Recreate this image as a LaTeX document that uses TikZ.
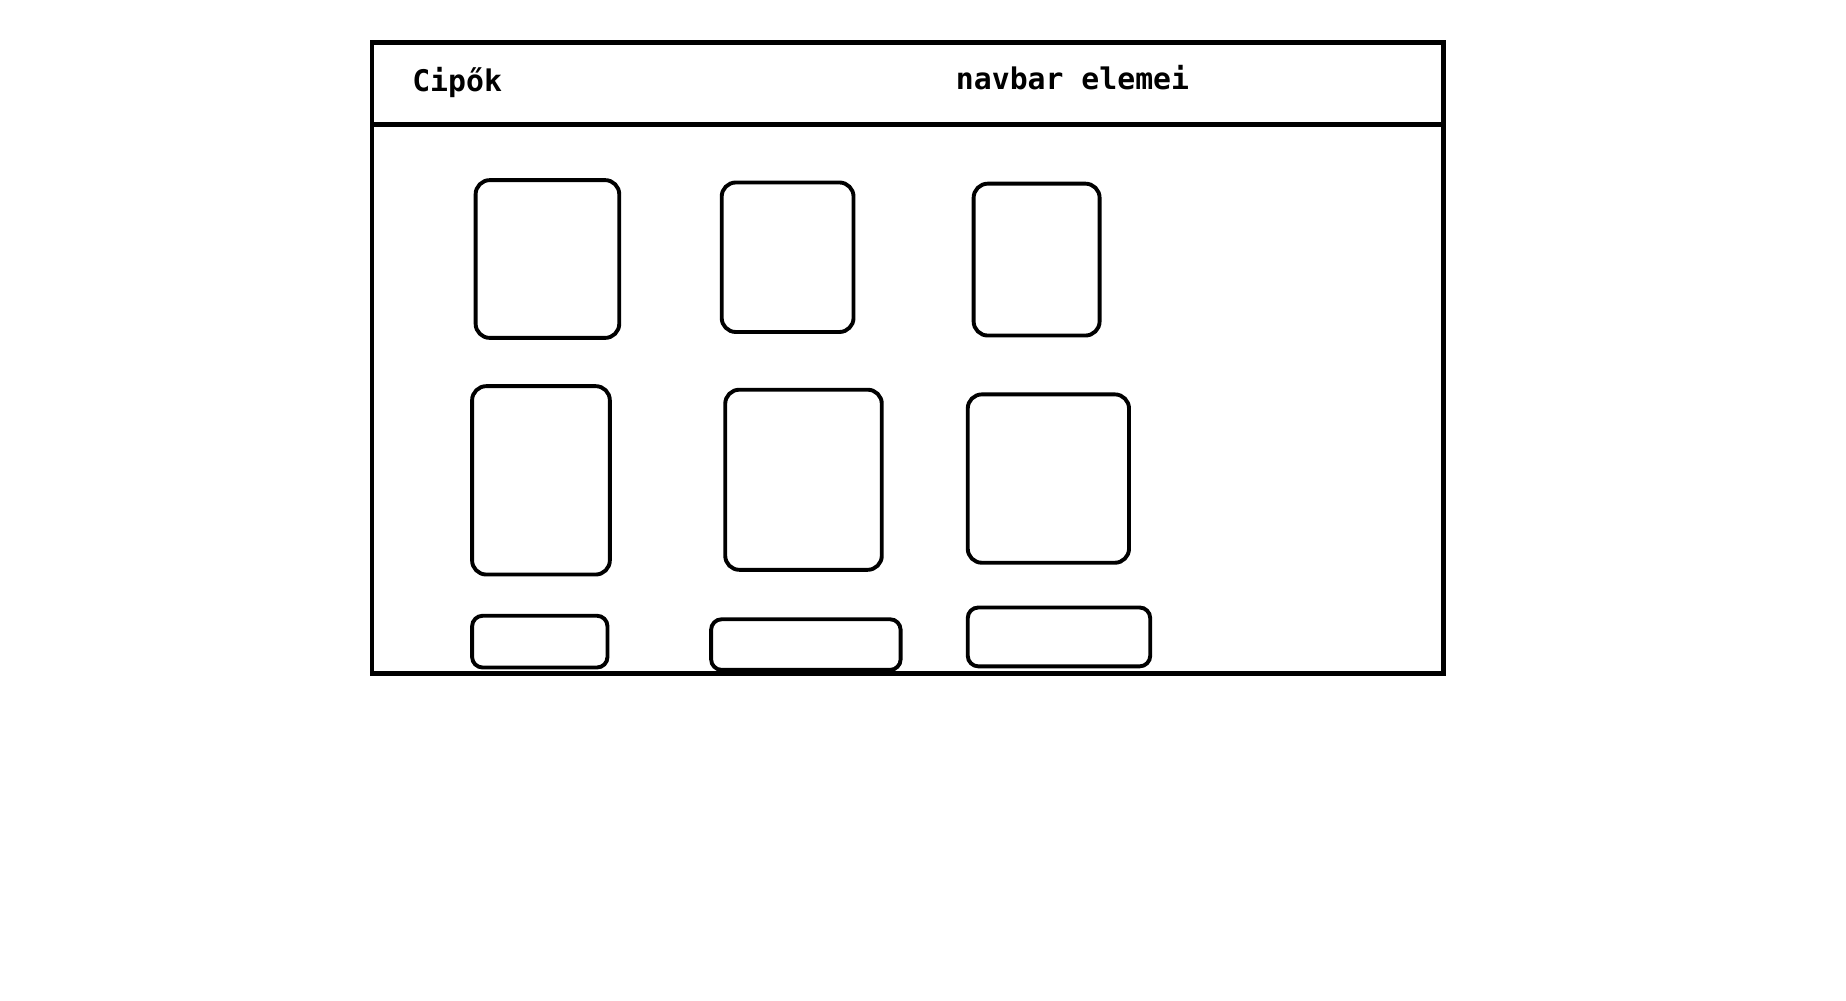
\documentclass[tikz,border=0pt]{standalone}
\usepackage{fontspec}
\setmonofont{DejaVu Sans Mono}
\begin{document}
\begin{tikzpicture}[x=1pt,y=-1pt,
  frame/.style={draw,line width=4pt,minimum width=910pt,minimum height=536pt,inner sep=0pt},
  card/.style={draw,line width=3.3pt,rounded corners=12pt,inner sep=0pt},
  smallcard/.style={draw,line width=3.3pt,rounded corners=9pt,inner sep=0pt},
  label/.style={font=\fontsize{25.3}{30}\selectfont\ttfamily\bfseries,inner sep=0pt}]
\useasboundingbox[fill=white] (0,0) rectangle (1568,849.4);
\node[frame] (fr) at (771,304) {};
\coordinate (hl) at (316,106);
\coordinate (hr) at (1228,106);
\draw[line width=4pt] (hl) -- (hr);
\node[label,anchor=west] (t1) at (350,70) {Cipők};
\node[label] (t2) at (911,66) {navbar elemei};
% row 1
\node[card,minimum width=122pt,minimum height=134pt] (a1) at (465,220) {};
\node[card,minimum width=112pt,minimum height=127pt] (a2) at (669,218.5) {};
\node[card,minimum width=107pt,minimum height=129pt] (a3) at (880.5,220.5) {};
% row 2
\node[card,minimum width=117pt,minimum height=160pt] (b1) at (459.5,408) {};
\node[card,minimum width=133pt,minimum height=153pt] (b2) at (682.5,407.5) {};
\node[card,minimum width=137pt,minimum height=143pt] (b3) at (890.5,406.5) {};
% row 3
\node[smallcard,minimum width=115pt,minimum height=44pt] (c1) at (458.5,545) {};
\node[smallcard,minimum width=161pt,minimum height=43pt] (c2) at (684.5,547.5) {};
\node[smallcard,minimum width=155pt,minimum height=50pt] (c3) at (899.5,541) {};
\end{tikzpicture}
\end{document}
